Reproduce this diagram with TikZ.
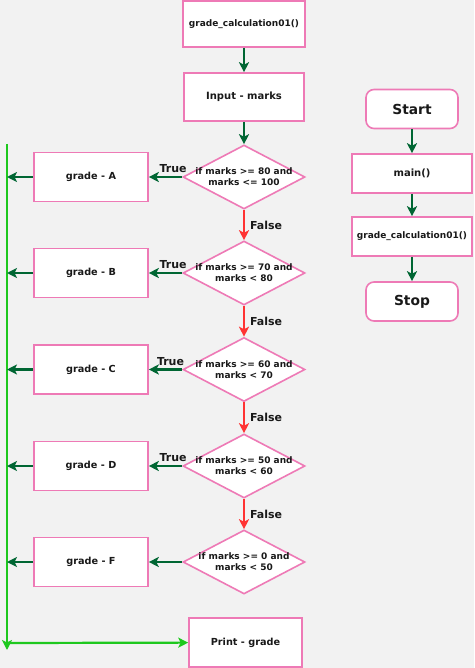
\documentclass[tikz,border=0pt]{standalone}
\usepackage{fontspec}
\setmainfont{DejaVu Sans}
\usetikzlibrary{arrows.meta,positioning,shapes.geometric}
\definecolor{pinkline}{RGB}{238,122,182}
\definecolor{flowgreen}{RGB}{0,102,51}
\definecolor{falsered}{RGB}{255,51,51}
\definecolor{busgreen}{RGB}{30,200,30}
\definecolor{bgcol}{RGB}{242,242,242}
\definecolor{txt}{RGB}{25,25,25}
\newcommand{\bsize}[2]{\fontsize{#1}{#2}\selectfont\bfseries}
\tikzset{
  proc/.style={rectangle, draw=pinkline, fill=white, line width=1.6pt, text=txt, align=center, font=\bsize{9.7}{11}, minimum width=114pt, minimum height=49pt},
  term/.style={proc, rounded corners=8pt, font=\bsize{13.8}{15}, minimum width=92pt, minimum height=39pt},
  decision/.style={diamond, draw=pinkline, fill=white, line width=1.6pt, inner sep=0pt, minimum width=122pt, minimum height=64pt},
  dtext/.style={text=txt, align=center, font=\bsize{9}{11}, inner sep=0pt},
  flow/.style={-{Stealth[length=10pt,width=10pt,inset=2.5pt]}, line width=2.2pt, draw=flowgreen},
  nope/.style={-{Stealth[length=10pt,width=10pt,inset=2.5pt]}, line width=2.2pt, draw=falsered},
  bus/.style={-{Stealth[length=10pt,width=10pt,inset=2.5pt]}, line width=2.2pt, draw=busgreen},
  lab/.style={text=txt, font=\bsize{11}{12}, inner sep=1pt},
}
\begin{document}
\begin{tikzpicture}[x=1pt,y=-1pt]
  \fill[bgcol] (0,0) rectangle (474,668);
  \useasboundingbox (0,0) rectangle (474,668);
  \node[proc, font=\bsize{9}{10}, minimum width=122pt, minimum height=46pt] (calc) at (244,24) {grade\_calculation01()};
  \node[proc, font=\bsize{10}{12}, minimum width=120pt, minimum height=48pt] (input) at (244,97) {Input - marks};

  \node[decision] (ifA) at (244,177) {};
  \node[dtext] at (ifA) {if marks >= 80 and\\marks <= 100};
  \node[decision] (ifB) at (244,273) {};
  \node[dtext] at (ifB) {if marks >= 70 and\\marks < 80};
  \node[decision] (ifC) at (244,369.5) {};
  \node[dtext] at (ifC) {if marks >= 60 and\\marks < 70};
  \node[decision] (ifD) at (244,466) {};
  \node[dtext] at (ifD) {if marks >= 50 and\\marks < 60};
  \node[decision] (ifF) at (244,562) {};
  \node[dtext] at (ifF) {if marks >= 0 and\\marks < 50};

  \node[proc] (gradeA) at (91,177) {grade - A};
  \node[proc] (gradeB) at (91,273) {grade - B};
  \node[proc] (gradeC) at (91,369.5) {grade - C};
  \node[proc] (gradeD) at (91,466) {grade - D};
  \node[proc] (gradeF) at (91,562) {grade - F};
  \node[proc, minimum width=113pt] (print) at (245.5,642.5) {Print - grade};

  \coordinate (bustop) at (7,144);
  \coordinate (busturn) at (7,643);
  \coordinate (busend) at (7,650);

  \draw[flow] (calc) -- (input);
  \draw[flow] (input) -- (ifA);
  \draw[flow] (ifA) -- node[lab, pos=.27, above=2pt] {True} (gradeA);
  \draw[flow] (ifB) -- node[lab, pos=.27, above=2pt] {True} (gradeB);
  \draw[flow] (ifC) -- node[lab, pos=.35, above=2pt] {True} (gradeC);
  \draw[flow] (ifD) -- node[lab, pos=.27, above=2pt] {True} (gradeD);
  \draw[flow] (ifF) -- (gradeF);
  \draw[nope] (ifA) -- node[lab, right=4pt] {False} (ifB);
  \draw[nope] (ifB) -- node[lab, right=4pt] {False} (ifC);
  \draw[nope] (ifC) -- node[lab, right=4pt] {False} (ifD);
  \draw[nope] (ifD) -- node[lab, right=4pt] {False} (ifF);

  \draw[bus] (bustop) -- (busend);
  \draw[bus] (busturn) -- (print);
  \draw[flow] (gradeA) -- (gradeA -| bustop);
  \draw[flow] (gradeB) -- (gradeB -| bustop);
  \draw[flow] (gradeC) -- (gradeC -| bustop);
  \draw[flow] (gradeD) -- (gradeD -| bustop);
  \draw[flow] (gradeF) -- (gradeF -| bustop);

  \node[term] (start) at (412,109) {Start};
  \node[proc, font=\bsize{10}{12}, minimum width=120pt, minimum height=39pt] (main) at (412,173.5) {main()};
  \node[proc, font=\bsize{9}{10}, minimum width=120pt, minimum height=39pt] (calc2) at (412,236.5) {grade\_calculation01()};
  \node[term] (stop) at (412,301.5) {Stop};
  \draw[flow] (start) -- (main);
  \draw[flow] (main) -- (calc2);
  \draw[flow] (calc2) -- (stop);
\end{tikzpicture}
\end{document}
